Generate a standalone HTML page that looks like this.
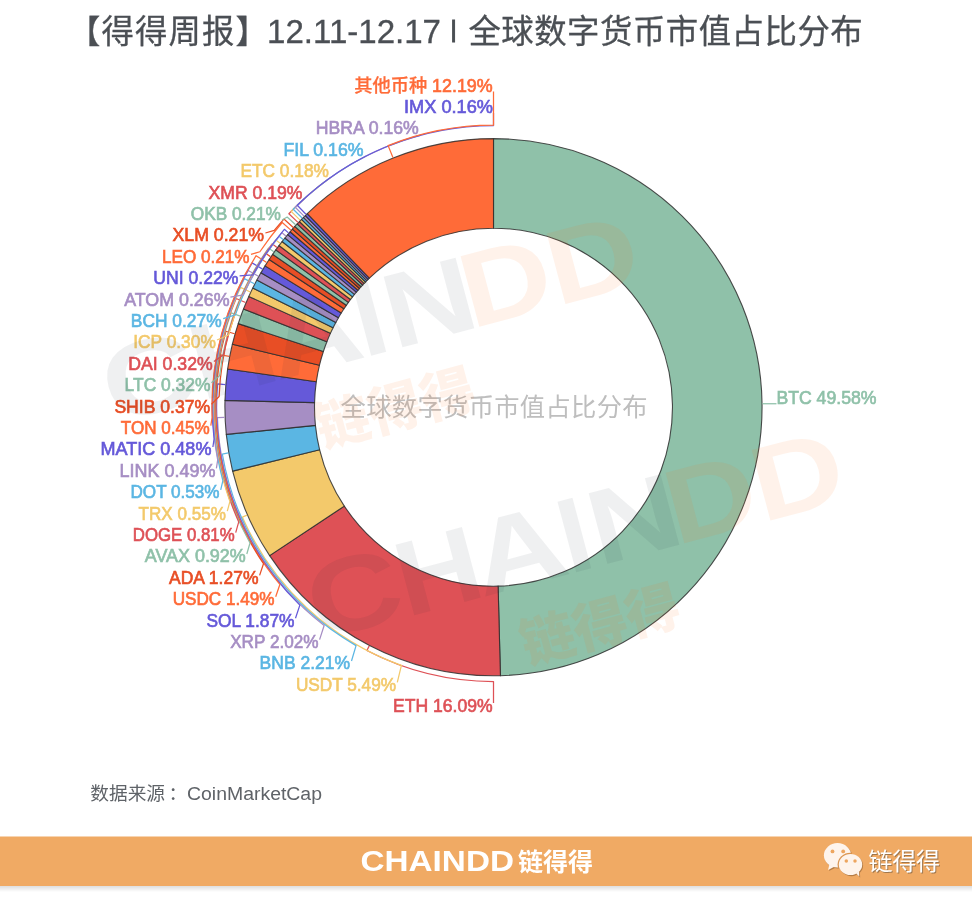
<!DOCTYPE html>
<html lang="zh">
<head>
<meta charset="utf-8">
<title>【得得周报】12.11-12.17 | 全球数字货币市值占比分布</title>
<style>
html,body{margin:0;padding:0;background:#fff;}
body{width:972px;height:905px;overflow:hidden;position:relative;font-family:"Liberation Sans","Noto Sans CJK SC",sans-serif;}
svg{position:absolute;left:0;top:0;display:block;}
</style>
</head>
<body>
<svg width="972" height="905" viewBox="0 0 972 905">
<rect width="972" height="905" fill="#ffffff"/>
<!-- title -->
<g font-family="'Liberation Sans','Noto Sans CJK SC',sans-serif" font-size="32.4" fill="#4b4f54" stroke="#4b4f54" stroke-width="0.3">
<text x="68" y="43.2" textLength="200" lengthAdjust="spacing">【得得周报】</text>
<text x="267" y="42.8" font-size="33.2" textLength="174" lengthAdjust="spacingAndGlyphs">12.11-12.17</text>
<text x="450.5" y="37.3" font-size="23.8" stroke-width="1">|</text>
<text x="468.4" y="43.2" textLength="394.3" lengthAdjust="spacing">全球数字货币市值占比分布</text>
</g>
<!-- chart -->
<g stroke="#2e2e2e" stroke-opacity="0.85" stroke-width="1.1" stroke-linejoin="round">
<path d="M493.5 138.6A268.6 268.6 0 0 1 500.42 675.71L498.11 586.14A179 179 0 0 0 493.5 228.2Z" fill="#8FC1A9"/>
<path d="M500.42 675.71A268.6 268.6 0 0 1 269.62 555.61L344.3 506.1A179 179 0 0 0 498.11 586.14Z" fill="#DE5156"/>
<path d="M269.62 555.61A268.6 268.6 0 0 1 232.62 471.15L319.65 449.81A179 179 0 0 0 344.3 506.1Z" fill="#F3C96B"/>
<path d="M232.62 471.15A268.6 268.6 0 0 1 226.28 434.41L315.42 425.34A179 179 0 0 0 319.65 449.81Z" fill="#5BB6E3"/>
<path d="M226.28 434.41A268.6 268.6 0 0 1 224.99 400.36L314.56 402.64A179 179 0 0 0 315.42 425.34Z" fill="#A68EC4"/>
<path d="M224.99 400.36A268.6 268.6 0 0 1 227.64 368.93L316.33 381.7A179 179 0 0 0 314.56 402.64Z" fill="#6559D9"/>
<path d="M227.64 368.93A268.6 268.6 0 0 1 232.38 344.24L319.49 365.24A179 179 0 0 0 316.33 381.7Z" fill="#FF6B38"/>
<path d="M232.38 344.24A268.6 268.6 0 0 1 238.23 323.62L323.39 351.5A179 179 0 0 0 319.49 365.24Z" fill="#E84E25"/>
<path d="M238.23 323.62A268.6 268.6 0 0 1 243.49 309.01L326.89 341.76A179 179 0 0 0 323.39 351.5Z" fill="#8FC1A9"/>
<path d="M243.49 309.01A268.6 268.6 0 0 1 248.81 296.42L330.43 333.37A179 179 0 0 0 326.89 341.76Z" fill="#DE5156"/>
<path d="M248.81 296.42A268.6 268.6 0 0 1 252.79 288.03L333.08 327.78A179 179 0 0 0 330.43 333.37Z" fill="#F3C96B"/>
<path d="M252.79 288.03A268.6 268.6 0 0 1 256.89 280.08L335.82 322.48A179 179 0 0 0 333.08 327.78Z" fill="#5BB6E3"/>
<path d="M256.89 280.08A268.6 268.6 0 0 1 260.91 272.85L338.5 317.67A179 179 0 0 0 335.82 322.48Z" fill="#A68EC4"/>
<path d="M260.91 272.85A268.6 268.6 0 0 1 265.07 265.9L341.27 313.03A179 179 0 0 0 338.5 317.67Z" fill="#6559D9"/>
<path d="M265.07 265.9A268.6 268.6 0 0 1 269.16 259.49L343.99 308.77A179 179 0 0 0 341.27 313.03Z" fill="#FF6B38"/>
<path d="M269.16 259.49A268.6 268.6 0 0 1 272.65 254.32L346.32 305.32A179 179 0 0 0 343.99 308.77Z" fill="#E84E25"/>
<path d="M272.65 254.32A268.6 268.6 0 0 1 275.77 249.91L348.4 302.38A179 179 0 0 0 346.32 305.32Z" fill="#8FC1A9"/>
<path d="M275.77 249.91A268.6 268.6 0 0 1 278.98 245.56L350.54 299.48A179 179 0 0 0 348.4 302.38Z" fill="#DE5156"/>
<path d="M278.98 245.56A268.6 268.6 0 0 1 282.06 241.55L352.6 296.81A179 179 0 0 0 350.54 299.48Z" fill="#F3C96B"/>
<path d="M282.06 241.55A268.6 268.6 0 0 1 284.91 237.98L354.49 294.43A179 179 0 0 0 352.6 296.81Z" fill="#5BB6E3"/>
<path d="M284.91 237.98A268.6 268.6 0 0 1 287.7 234.6L356.35 292.17A179 179 0 0 0 354.49 294.43Z" fill="#A68EC4"/>
<path d="M287.7 234.6A268.6 268.6 0 0 1 290.1 231.77L357.95 290.29A179 179 0 0 0 356.35 292.17Z" fill="#6559D9"/>
<path d="M290.1 231.77A268.6 268.6 0 0 1 292.44 229.1L359.51 288.51A179 179 0 0 0 357.95 290.29Z" fill="#FF6B38"/>
<path d="M292.44 229.1A268.6 268.6 0 0 1 294.8 226.46L361.09 286.75A179 179 0 0 0 359.51 288.51Z" fill="#E84E25"/>
<path d="M294.8 226.46A268.6 268.6 0 0 1 297.21 223.86L362.69 285.02A179 179 0 0 0 361.09 286.75Z" fill="#8FC1A9"/>
<path d="M297.21 223.86A268.6 268.6 0 0 1 299.41 221.52L364.16 283.46A179 179 0 0 0 362.69 285.02Z" fill="#DE5156"/>
<path d="M299.41 221.52A268.6 268.6 0 0 1 301.52 219.34L365.56 282.01A179 179 0 0 0 364.16 283.46Z" fill="#F3C96B"/>
<path d="M301.52 219.34A268.6 268.6 0 0 1 303.42 217.42L366.83 280.73A179 179 0 0 0 365.56 282.01Z" fill="#5BB6E3"/>
<path d="M303.42 217.42A268.6 268.6 0 0 1 305.34 215.52L368.11 279.46A179 179 0 0 0 366.83 280.73Z" fill="#A68EC4"/>
<path d="M305.34 215.52A268.6 268.6 0 0 1 307.28 213.64L369.4 278.21A179 179 0 0 0 368.11 279.46Z" fill="#6559D9"/>
<path d="M307.28 213.64A268.6 268.6 0 0 1 493.5 138.6L493.5 228.2A179 179 0 0 0 369.4 278.21Z" fill="#FF6B38"/>
</g>
<g fill="none" stroke-width="1.25" stroke-linejoin="round">
<path d="M762.58 403.74H776.5" stroke="#8FC1A9"/>
<path d="M369.28 645.91L366.88 650.53A274.3 274.3 0 0 0 493.5 681.5L493.5 703" stroke="#DE5156"/>
<path d="M247.01 515.18L242.43 517.18A274.1 274.1 0 0 0 401.41 665.37L397.3 682.4" stroke="#F3C96B"/>
<path d="M228.32 452.98L222.31 454.01A275.2 275.2 0 0 0 356.05 645.62L351.5 661" stroke="#5BB6E3"/>
<path d="M224.59 417.43L217.4 417.7A276.3 276.3 0 0 0 324.14 625.51L319.6 639.6" stroke="#A68EC4"/>
<path d="M225.35 384.57L217.58 383.91A276.9 276.9 0 0 0 299.85 605.12L295.5 618.2" stroke="#6559D9"/>
<path d="M229.23 356.43L220.88 354.83A277.6 277.6 0 0 0 279.86 584.46L275.7 596.8" stroke="#FF6B38"/>
<path d="M234.62 333.73L225.87 331.25A278.2 278.2 0 0 0 263.49 563.69L259.6 575.4" stroke="#E84E25"/>
<path d="M240.29 316.11L231.16 312.82A278.8 278.8 0 0 0 250.01 543.01L246.8 554" stroke="#8FC1A9"/>
<path d="M245.61 302.48L236.12 298.48A279.4 279.4 0 0 0 238.74 521.92L235.7 532.6" stroke="#DE5156"/>
<path d="M250.31 291.99L240.55 287.37A279.9 279.9 0 0 0 229.93 501.42L227.3 511.2" stroke="#F3C96B"/>
<path d="M254.36 283.8L244.32 278.62A280.4 280.4 0 0 0 222.91 480.72L220.7 489.8" stroke="#5BB6E3"/>
<path d="M258.44 276.2L248.22 270.51A280.8 280.8 0 0 0 217.7 459.94L216.4 468.4" stroke="#A68EC4"/>
<path d="M262.54 269.1L252.15 262.89A281.2 281.2 0 0 0 214.08 438.83L212.9 447" stroke="#6559D9"/>
<path d="M266.67 262.41L256.13 255.69A281.6 281.6 0 0 0 212.09 417.59L210.8 425.6" stroke="#FF6B38"/>
<path d="M270.48 256.62L265.92 253.54A274.6 274.6 0 0 0 219.11 396.5L211.5 404.2" stroke="#E84E25"/>
<path d="M273.79 251.82L268.49 248.06A275.6 275.6 0 0 0 219.72 375.62L211.5 382.8" stroke="#8FC1A9"/>
<path d="M276.96 247.43L272.13 243.87A275.1 275.1 0 0 0 223.42 354.87L213.9 361.4" stroke="#DE5156"/>
<path d="M280.12 243.24L275.75 239.89A274.6 274.6 0 0 0 228.57 334.96L217 340" stroke="#F3C96B"/>
<path d="M283.09 239.45L279.1 236.27A274.2 274.2 0 0 0 235.32 314.86L223.2 318.6" stroke="#5BB6E3"/>
<path d="M285.91 235.97L281.98 232.72A274.2 274.2 0 0 0 243.33 294.94L230.4 297.2" stroke="#A68EC4"/>
<path d="M288.52 232.86L284.33 229.29A274.6 274.6 0 0 0 252.87 274.9L239.6 275.8" stroke="#6559D9"/>
<path d="M290.89 230.1L282.23 222.53A280.6 280.6 0 0 0 259.88 251.77L251 254.4" stroke="#FF6B38"/>
<path d="M293.24 227.44L283.94 219.09A281.6 281.6 0 0 0 274.26 230.47L265.4 233" stroke="#E84E25"/>
<path d="M295.63 224.82L287.18 217.02L282 220" stroke="#8FC1A9"/>
<path d="M297.94 222.34L288.86 213.76A281.6 281.6 0 0 1 303.93 198.96L303.6 198.6" stroke="#DE5156"/>
<path d="M300.1 220.08L291.12 211.39A281.6 281.6 0 0 1 330.21 177.78L329.8 177.2" stroke="#F3C96B"/>
<path d="M302.11 218.03L293.22 209.24A281.6 281.6 0 0 1 365.34 156.46L365 155.8" stroke="#5BB6E3"/>
<path d="M304.03 216.11L295.23 207.24A281.6 281.6 0 0 1 420.24 135.3L420 134.4" stroke="#A68EC4"/>
<path d="M305.96 214.22L297.25 205.25A281.6 281.6 0 0 1 493.5 125.6L493.5 113" stroke="#6559D9"/>
<path d="M392.93 157.6L388.11 145.64A282 282 0 0 1 493.5 125.2L493.5 91.6" stroke="#FF6B38"/>
</g>
<g font-family="'Liberation Sans', sans-serif" font-size="17.9" stroke-width="0.65">
<text x="776.39" y="403.84" textLength="100.14" lengthAdjust="spacingAndGlyphs" fill="#8FC1A9" stroke="#8FC1A9">BTC 49.58%</text>
<text x="393" y="712.2" textLength="99.53" lengthAdjust="spacingAndGlyphs" fill="#DE5156" stroke="#DE5156">ETH 16.09%</text>
<text x="295.92" y="690.8" textLength="100.12" lengthAdjust="spacingAndGlyphs" fill="#F3C96B" stroke="#F3C96B">USDT 5.49%</text>
<text x="259.62" y="669.4" textLength="90.54" lengthAdjust="spacingAndGlyphs" fill="#5BB6E3" stroke="#5BB6E3">BNB 2.21%</text>
<text x="230.18" y="648" textLength="88.43" lengthAdjust="spacingAndGlyphs" fill="#A68EC4" stroke="#A68EC4">XRP 2.02%</text>
<text x="206.46" y="626.6" textLength="88.04" lengthAdjust="spacingAndGlyphs" fill="#6559D9" stroke="#6559D9">SOL 1.87%</text>
<text x="172.69" y="605.2" textLength="101.82" lengthAdjust="spacingAndGlyphs" fill="#FF6B38" stroke="#FF6B38">USDC 1.49%</text>
<text x="169" y="583.8" textLength="89.47" lengthAdjust="spacingAndGlyphs" fill="#E84E25" stroke="#E84E25">ADA 1.27%</text>
<text x="144.77" y="562.4" textLength="101" lengthAdjust="spacingAndGlyphs" fill="#8FC1A9" stroke="#8FC1A9">AVAX 0.92%</text>
<text x="132.74" y="541" textLength="101.86" lengthAdjust="spacingAndGlyphs" fill="#DE5156" stroke="#DE5156">DOGE 0.81%</text>
<text x="138.59" y="519.6" textLength="87.22" lengthAdjust="spacingAndGlyphs" fill="#F3C96B" stroke="#F3C96B">TRX 0.55%</text>
<text x="130.49" y="498.2" textLength="89.08" lengthAdjust="spacingAndGlyphs" fill="#5BB6E3" stroke="#5BB6E3">DOT 0.53%</text>
<text x="119.63" y="476.8" textLength="95.88" lengthAdjust="spacingAndGlyphs" fill="#A68EC4" stroke="#A68EC4">LINK 0.49%</text>
<text x="100.6" y="455.4" textLength="110.83" lengthAdjust="spacingAndGlyphs" fill="#6559D9" stroke="#6559D9">MATIC 0.48%</text>
<text x="120.85" y="434" textLength="88.85" lengthAdjust="spacingAndGlyphs" fill="#FF6B38" stroke="#FF6B38">TON 0.45%</text>
<text x="114.4" y="412.6" textLength="95.76" lengthAdjust="spacingAndGlyphs" fill="#E84E25" stroke="#E84E25">SHIB 0.37%</text>
<text x="124.62" y="391.2" textLength="85.82" lengthAdjust="spacingAndGlyphs" fill="#8FC1A9" stroke="#8FC1A9">LTC 0.32%</text>
<text x="128.28" y="369.8" textLength="84.45" lengthAdjust="spacingAndGlyphs" fill="#DE5156" stroke="#DE5156">DAI 0.32%</text>
<text x="133.26" y="348.4" textLength="82.55" lengthAdjust="spacingAndGlyphs" fill="#F3C96B" stroke="#F3C96B">ICP 0.30%</text>
<text x="130.83" y="327" textLength="90.77" lengthAdjust="spacingAndGlyphs" fill="#5BB6E3" stroke="#5BB6E3">BCH 0.27%</text>
<text x="124.21" y="305.6" textLength="105.31" lengthAdjust="spacingAndGlyphs" fill="#A68EC4" stroke="#A68EC4">ATOM 0.26%</text>
<text x="153.37" y="284.2" textLength="85.03" lengthAdjust="spacingAndGlyphs" fill="#6559D9" stroke="#6559D9">UNI 0.22%</text>
<text x="162" y="262.8" textLength="87.5" lengthAdjust="spacingAndGlyphs" fill="#FF6B38" stroke="#FF6B38">LEO 0.21%</text>
<text x="172.47" y="241.4" textLength="91.63" lengthAdjust="spacingAndGlyphs" fill="#E84E25" stroke="#E84E25">XLM 0.21%</text>
<text x="190.72" y="220" textLength="90.18" lengthAdjust="spacingAndGlyphs" fill="#8FC1A9" stroke="#8FC1A9">OKB 0.21%</text>
<text x="208.6" y="198.6" textLength="93.88" lengthAdjust="spacingAndGlyphs" fill="#DE5156" stroke="#DE5156">XMR 0.19%</text>
<text x="240.45" y="177.2" textLength="88.46" lengthAdjust="spacingAndGlyphs" fill="#F3C96B" stroke="#F3C96B">ETC 0.18%</text>
<text x="283.4" y="155.8" textLength="80.1" lengthAdjust="spacingAndGlyphs" fill="#5BB6E3" stroke="#5BB6E3">FIL 0.16%</text>
<text x="315.67" y="134.4" textLength="103.12" lengthAdjust="spacingAndGlyphs" fill="#A68EC4" stroke="#A68EC4">HBRA 0.16%</text>
<text x="404.03" y="113" textLength="88.94" lengthAdjust="spacingAndGlyphs" fill="#6559D9" stroke="#6559D9">IMX 0.16%</text>
<text x="354.14" y="91.6" textLength="138.56" lengthAdjust="spacingAndGlyphs" fill="#FF6B38" stroke="#FF6B38"><tspan font-family="'Noto Sans CJK SC',sans-serif" font-weight="500" font-size="18.3" stroke-width="0.25">其他币种</tspan> 12.19%</text>
</g>
<!-- centre title -->
<text x="340.6" y="416" textLength="307" lengthAdjust="spacing" font-family="'Liberation Sans','Noto Sans CJK SC',sans-serif" font-size="25.3" fill="#bebebe">全球数字货币市值占比分布</text>
<!-- watermarks -->
<g font-family="'Liberation Sans','Noto Sans CJK SC',sans-serif" font-weight="bold">
<g transform="translate(323 639.5) rotate(-14.9)" font-size="106">
<text x="-5.3" y="0" textLength="93.9" lengthAdjust="spacingAndGlyphs" fill="#1d2b3a" fill-opacity="0.072">C</text>
<text x="86.6" y="0" textLength="84.3" lengthAdjust="spacingAndGlyphs" fill="#1d2b3a" fill-opacity="0.072">H</text>
<text x="164.8" y="0" textLength="93.7" lengthAdjust="spacingAndGlyphs" fill="#1d2b3a" fill-opacity="0.072">A</text>
<text x="254.8" y="0" textLength="29.9" lengthAdjust="spacingAndGlyphs" fill="#1d2b3a" fill-opacity="0.072">I</text>
<text x="285.8" y="0" textLength="91.4" lengthAdjust="spacingAndGlyphs" fill="#1d2b3a" fill-opacity="0.072">N</text>
<text x="365.6" y="0" textLength="90.7" lengthAdjust="spacingAndGlyphs" fill="#ff6a1a" fill-opacity="0.09">D</text>
<text x="454.5" y="0" textLength="91.8" lengthAdjust="spacingAndGlyphs" fill="#ff6a1a" fill-opacity="0.09">D</text>
<text x="190" y="76.5" font-size="54" font-weight="900" fill="#ff6a1a" fill-opacity="0.09" textLength="163" lengthAdjust="spacingAndGlyphs">链得得</text>
</g>
<g transform="translate(118 423) rotate(-14.9)" font-size="106">
<text x="-5.3" y="0" textLength="93.9" lengthAdjust="spacingAndGlyphs" fill="#1d2b3a" fill-opacity="0.072">C</text>
<text x="86.6" y="0" textLength="84.3" lengthAdjust="spacingAndGlyphs" fill="#1d2b3a" fill-opacity="0.072">H</text>
<text x="164.8" y="0" textLength="93.7" lengthAdjust="spacingAndGlyphs" fill="#1d2b3a" fill-opacity="0.072">A</text>
<text x="254.8" y="0" textLength="29.9" lengthAdjust="spacingAndGlyphs" fill="#1d2b3a" fill-opacity="0.072">I</text>
<text x="285.8" y="0" textLength="91.4" lengthAdjust="spacingAndGlyphs" fill="#1d2b3a" fill-opacity="0.072">N</text>
<text x="365.6" y="0" textLength="90.7" lengthAdjust="spacingAndGlyphs" fill="#ff6a1a" fill-opacity="0.09">D</text>
<text x="454.5" y="0" textLength="91.8" lengthAdjust="spacingAndGlyphs" fill="#ff6a1a" fill-opacity="0.09">D</text>
<text x="190" y="76.5" font-size="54" font-weight="900" fill="#ff6a1a" fill-opacity="0.09" textLength="163" lengthAdjust="spacingAndGlyphs">链得得</text>
</g>
</g>
<!-- source -->
<g font-family="'Liberation Sans','Noto Sans CJK SC',sans-serif" font-size="18" fill="#5f6368">
<text x="90.3" y="800.2" font-size="18.7">数据来源<tspan dx="3.5">：</tspan></text>
<text x="187" y="800" textLength="135" lengthAdjust="spacingAndGlyphs">CoinMarketCap</text>
</g>
<!-- footer -->
<defs>
<linearGradient id="sh" x1="0" y1="0" x2="0" y2="1"><stop offset="0" stop-color="#000" stop-opacity="0.13"/><stop offset="1" stop-color="#000" stop-opacity="0"/></linearGradient>
</defs>
<rect x="0" y="886" width="972" height="6" fill="url(#sh)"/>
<rect x="0" y="836.5" width="972" height="49.5" fill="#F0AA64"/>
<g font-family="'Liberation Sans','Noto Sans CJK SC',sans-serif" font-weight="bold" fill="#ffffff">
<text x="360.5" y="871.4" font-size="29" textLength="153.5" lengthAdjust="spacingAndGlyphs">CHAINDD</text>
<text x="518" y="870.5" font-size="24.5" textLength="75" lengthAdjust="spacingAndGlyphs">链得得</text>
</g>
<!-- wechat icon -->
<clipPath id="bigb"><ellipse cx="837.5" cy="855.3" rx="14.6" ry="13.2"/></clipPath>
<g>
<g fill="#8f5f32" opacity="0.6" transform="translate(0.9 1.1)">
<ellipse cx="837.5" cy="855.3" rx="13.6" ry="12.2"/>
<ellipse cx="850.5" cy="864.5" rx="11.7" ry="10.6"/>
<path d="M856.2 873.4L859.3 876.6L859 871.2Z"/>
<path d="M829.3 864.6L828.1 869.9L834.2 866.8Z"/>
</g>
<g fill="#FEF4EC">
<path d="M829.3 864.6L828.1 869.9L834.2 866.8Z"/>
<ellipse cx="837.5" cy="855.3" rx="13.6" ry="12.2"/>
<ellipse cx="850.5" cy="864.5" rx="12.9" ry="11.8" fill="#D9944F" clip-path="url(#bigb)"/>
<ellipse cx="850.5" cy="864.5" rx="11.7" ry="10.6"/>
<path d="M856.2 873.4L859.3 876.6L859 871.2Z"/>
</g>
<g fill="#EDA660">
<circle cx="832.5" cy="851.4" r="1.9"/><circle cx="843.2" cy="851.4" r="1.9"/>
<circle cx="846.3" cy="861" r="1.75"/><circle cx="855" cy="861" r="1.75"/>
</g>
</g>
<g font-family="'Liberation Sans','Noto Sans CJK SC',sans-serif" font-size="24">
<text x="869.6" y="870.8" fill="#8a6a48" fill-opacity="0.8" textLength="71.5" lengthAdjust="spacing">链得得</text>
<text x="868.6" y="869.8" fill="#ffffff" textLength="71.5" lengthAdjust="spacing">链得得</text>
</g>
</svg>
</body>
</html>
